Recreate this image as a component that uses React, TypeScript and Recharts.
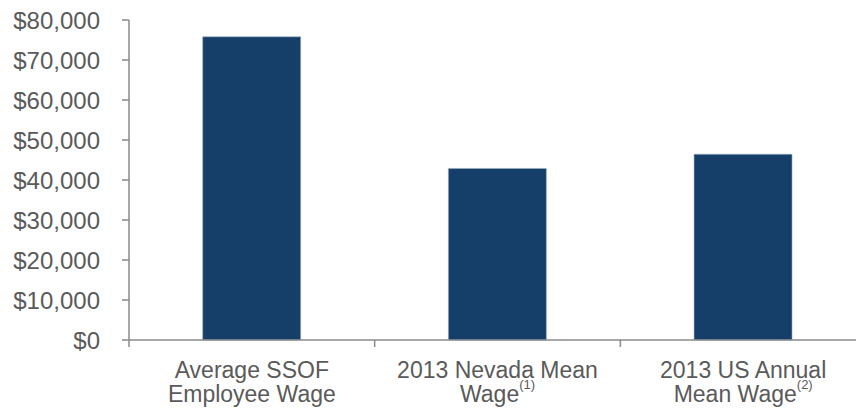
import React from 'react';
import { Bar, BarChart, XAxis, YAxis } from 'recharts';

// wage categories, two label lines each plus an optional footnote marker
const CATEGORIES = ['Average SSOF Employee Wage', '2013 Nevada Mean Wage', '2013 US Annual Mean Wage'];
const LABEL_LINE_1 = ['Average SSOF', '2013 Nevada Mean', '2013 US Annual'];
const LABEL_LINE_2 = ['Employee Wage', 'Wage', 'Mean Wage'];
const FOOTNOTES = ['', '(1)', '(2)'];
const WAGES = [75800, 42900, 46440];
const Y_TICKS = [0, 10000, 20000, 30000, 40000, 50000, 60000, 70000, 80000];

const data = CATEGORIES.map((name, i) => ({ name, wage: WAGES[i] }));

const TEXT = '#5a5a5a';
const AXIS = '#8a8a8a';
const BAR = '#153f68';
const FONT = '"Liberation Sans", Arial, sans-serif';

const CHART_W = 880;
const PLOT_LEFT = 129;
const PLOT_RIGHT = 866;

const formatDollar = (v: number) => `$${v.toLocaleString('en-US')}`;

function CategoryTick(props: any) {
  const { x, y, payload, index } = props;
  const half = payload?.offset ?? (PLOT_RIGHT - PLOT_LEFT) / CATEGORIES.length / 2;
  const i = index ?? CATEGORIES.indexOf(payload.value);
  return (
    <g>
      <line x1={x - half} y1={y} x2={x - half} y2={y + 7} stroke={AXIS} strokeWidth={1.5} />
      {i === CATEGORIES.length - 1 && (
        <line x1={x + half} y1={y} x2={x + half} y2={y + 7} stroke={AXIS} strokeWidth={1.5} />
      )}
      <text x={x} y={y + 38} textAnchor="middle" fill={TEXT} fontSize={23} fontFamily={FONT}>
        {LABEL_LINE_1[i]}
      </text>
      <text x={x} y={y + 62} textAnchor="middle" fill={TEXT} fontSize={23} fontFamily={FONT}>
        {LABEL_LINE_2[i]}
        {FOOTNOTES[i] && (
          <tspan fontSize={13} dy={-13}>
            {FOOTNOTES[i]}
          </tspan>
        )}
      </text>
    </g>
  );
}

export default function App() {
  return (
    <div
      style={{
        position: 'absolute',
        left: 0,
        top: 0,
        width: 856,
        height: 410,
        overflow: 'hidden',
        background: '#fff',
      }}
    >
      <BarChart
        width={CHART_W}
        height={410}
        data={data}
        margin={{ top: 20, right: CHART_W - PLOT_RIGHT, bottom: 0, left: 0 }}
        barCategoryGap="30%"
      >
        <YAxis
          width={PLOT_LEFT}
          domain={[0, 80000]}
          ticks={Y_TICKS}
          tickFormatter={formatDollar}
          tickSize={7}
          tickMargin={22}
          axisLine={{ stroke: AXIS, strokeWidth: 1.5 }}
          tickLine={{ stroke: AXIS, strokeWidth: 1.5 }}
          tick={{ fill: TEXT, fontSize: 24, fontFamily: FONT }}
        />
        <XAxis
          dataKey="name"
          height={70}
          interval={0}
          tickSize={0}
          tickMargin={0}
          tickLine={false}
          axisLine={{ stroke: AXIS, strokeWidth: 1.5 }}
          tick={<CategoryTick />}
        />
        <Bar dataKey="wage" fill={BAR} stroke="#9fb0c3" strokeWidth={0.6} isAnimationActive={false} />
      </BarChart>
    </div>
  );
}
